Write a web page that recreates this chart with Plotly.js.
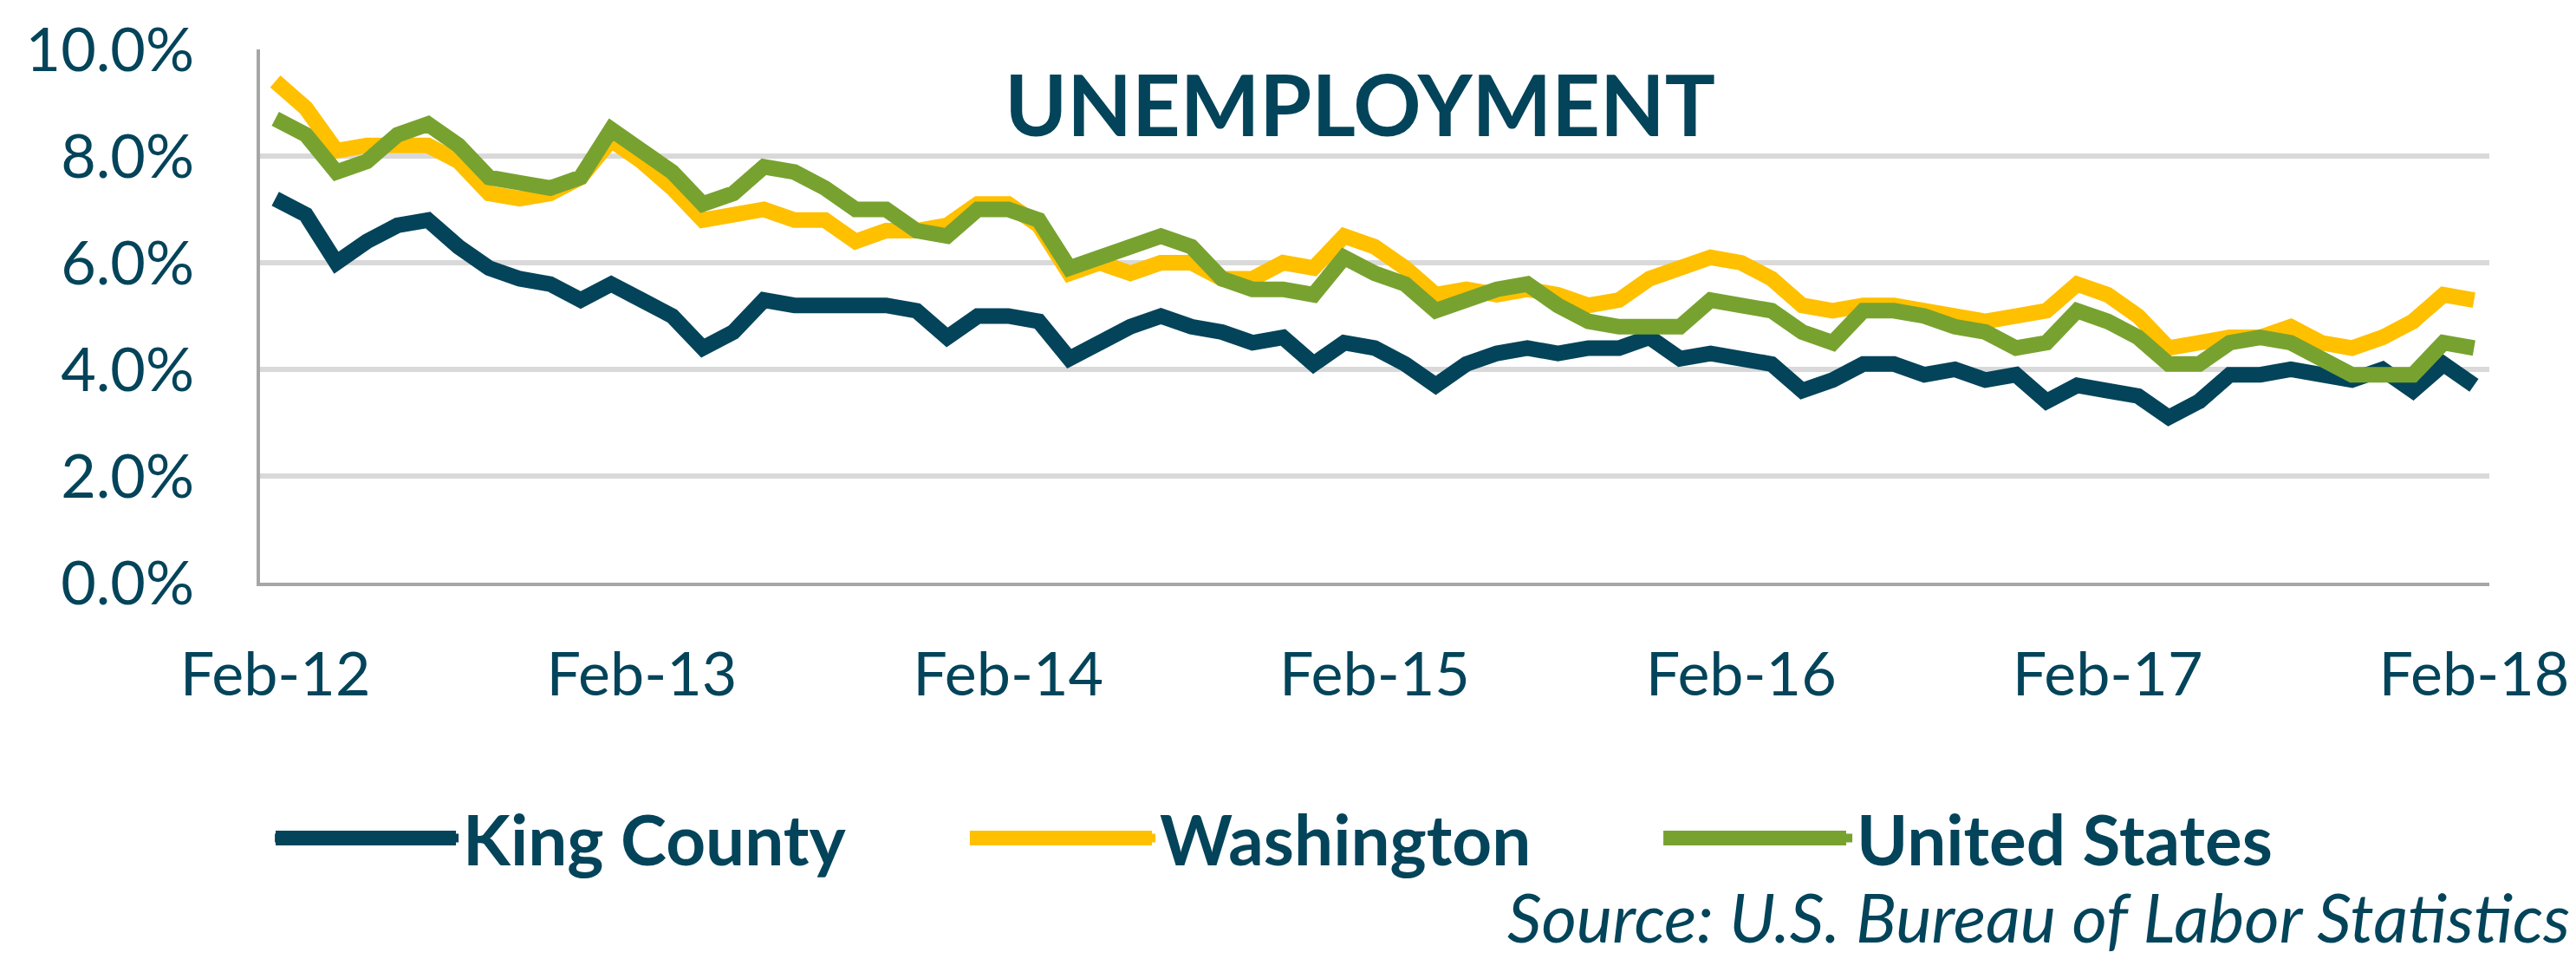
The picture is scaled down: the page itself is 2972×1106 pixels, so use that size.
<!DOCTYPE html>
<html>
<head>
<meta charset="utf-8">
<script src="https://cdn.plot.ly/plotly-3.0.1.min.js"></script>
<style>html,body{margin:0;padding:0;background:#fff;}#chart{width:2972px;height:1106px;}</style>
</head>
<body>
<div id="chart"></div>
<script>
const months = ['Feb-12','Mar-12','Apr-12','May-12','Jun-12','Jul-12','Aug-12','Sep-12','Oct-12','Nov-12','Dec-12','Jan-13',
'Feb-13','Mar-13','Apr-13','May-13','Jun-13','Jul-13','Aug-13','Sep-13','Oct-13','Nov-13','Dec-13','Jan-14',
'Feb-14','Mar-14','Apr-14','May-14','Jun-14','Jul-14','Aug-14','Sep-14','Oct-14','Nov-14','Dec-14','Jan-15',
'Feb-15','Mar-15','Apr-15','May-15','Jun-15','Jul-15','Aug-15','Sep-15','Oct-15','Nov-15','Dec-15','Jan-16',
'Feb-16','Mar-16','Apr-16','May-16','Jun-16','Jul-16','Aug-16','Sep-16','Oct-16','Nov-16','Dec-16','Jan-17',
'Feb-17','Mar-17','Apr-17','May-17','Jun-17','Jul-17','Aug-17','Sep-17','Oct-17','Nov-17','Dec-17','Jan-18',
'Feb-18'];
const tickLabels = ['Feb-12','Feb-13','Feb-14','Feb-15','Feb-16','Feb-17','Feb-18'];
const kingCounty = [7.2,6.9,6.0,6.4,6.7,6.8,6.3,5.9,5.7,5.6,5.3,5.6,
5.3,5.0,4.4,4.7,5.3,5.2,5.2,5.2,5.2,5.1,4.6,5.0,
5.0,4.9,4.2,4.5,4.8,5.0,4.8,4.7,4.5,4.6,4.1,4.5,
4.4,4.1,3.7,4.1,4.3,4.4,4.3,4.4,4.4,4.6,4.2,4.3,
4.2,4.1,3.6,3.8,4.1,4.1,3.9,4.0,3.8,3.9,3.4,3.7,
3.6,3.5,3.1,3.4,3.9,3.9,4.0,3.9,3.8,4.0,3.6,4.1,3.7];
const washington = [9.4,8.9,8.1,8.2,8.2,8.2,7.9,7.3,7.2,7.3,7.6,8.3,
7.9,7.4,6.8,6.9,7.0,6.8,6.8,6.4,6.6,6.6,6.7,7.1,
7.1,6.7,5.8,6.0,5.8,6.0,6.0,5.7,5.7,6.0,5.9,6.5,
6.3,5.9,5.4,5.5,5.4,5.5,5.4,5.2,5.3,5.7,5.9,6.1,
6.0,5.7,5.2,5.1,5.2,5.2,5.1,5.0,4.9,5.0,5.1,5.6,
5.4,5.0,4.4,4.5,4.6,4.6,4.8,4.5,4.4,4.6,4.9,5.4,5.3];
const unitedStates = [8.7,8.4,7.7,7.9,8.4,8.6,8.2,7.6,7.5,7.4,7.6,8.5,
8.1,7.7,7.1,7.3,7.8,7.7,7.4,7.0,7.0,6.6,6.5,7.0,
7.0,6.8,5.9,6.1,6.3,6.5,6.3,5.7,5.5,5.5,5.4,6.1,
5.8,5.6,5.1,5.3,5.5,5.6,5.2,4.9,4.8,4.8,4.8,5.3,
5.2,5.1,4.7,4.5,5.1,5.1,5.0,4.8,4.7,4.4,4.5,5.1,
4.9,4.6,4.1,4.1,4.5,4.6,4.5,4.2,3.9,3.9,3.9,4.5,4.4];
const seriesNames = ['King County','Washington','United States'];
const seriesColors = ['#03445A','#FFC000','#78A22F'];
const textColor = '#03445A';

const seriesData = [kingCounty, washington, unitedStates];
const traces = seriesData.map((vals, i) => ({
  type: 'scatter', mode: 'lines', name: seriesNames[i],
  x: months, y: vals,
  line: {color: seriesColors[i], width: 18}
}));

// thicker legend swatches drawn under the native legend symbols (native legend caps line width)
const legendY = -0.479;
const swatchX = [[0.0070, 0.0879], [0.3184, 0.4001], [0.6295, 0.7115]];
const shapes = swatchX.map((sx, i) => ({
  type: 'line', xref: 'paper', yref: 'paper', x0: sx[0], x1: sx[1], y0: legendY, y1: legendY,
  line: {color: seriesColors[i], width: 17}, layer: 'above'
}));

const layout = {
  width: 2972, height: 1106,
  paper_bgcolor: '#fff', plot_bgcolor: '#fff',
  margin: {l: 300, r: 100, t: 57, b: 434},
  font: {family: 'Lato, sans-serif', color: textColor},
  title: {text: 'UNEMPLOYMENT', font: {family: 'Lato, sans-serif', size: 97, color: textColor, weight: 'bold'},
          xref: 'paper', yref: 'paper', x: 0.4934, y: 0.893, xanchor: 'center', yanchor: 'middle'},
  xaxis: {type: 'category', range: [-0.5, 72.5], tickmode: 'array', tickvals: tickLabels, ticktext: tickLabels,
          showgrid: false, zeroline: false, showline: true, linecolor: '#A6A6A6', linewidth: 4,
          ticks: '', tickfont: {size: 70, color: textColor}, ticklabelstandoff: 42},
  yaxis: {range: [0, 10], dtick: 2, tick0: 0, tickformat: '.1f', ticksuffix: '%',
          showgrid: true, gridcolor: '#D9D9D9', gridwidth: 6, zeroline: false,
          showline: true, linecolor: '#A6A6A6', linewidth: 4,
          ticks: '', tickfont: {size: 70, color: textColor}, ticklabelstandoff: 58},
  showlegend: true,
  legend: {orientation: 'h', x: 0.0047, xanchor: 'left', y: legendY, yanchor: 'middle',
           font: {family: 'Lato, sans-serif', size: 80, color: textColor, weight: 'bold'},
           itemwidth: 212, entrywidth: 577, entrywidthmode: 'pixels', bgcolor: 'rgba(0,0,0,0)'},
  shapes: shapes,
  annotations: [{text: 'Source: U.S. Bureau of Labor Statistics', xref: 'paper', yref: 'paper',
                 x: 1.037, y: -0.7057, xanchor: 'right', yanchor: 'bottom', showarrow: false,
                 font: {family: 'Lato, sans-serif', size: 78, color: textColor, style: 'italic'}}]
};

Plotly.newPlot('chart', traces, layout, {staticPlot: true, displayModeBar: false});
</script>
</body>
</html>
